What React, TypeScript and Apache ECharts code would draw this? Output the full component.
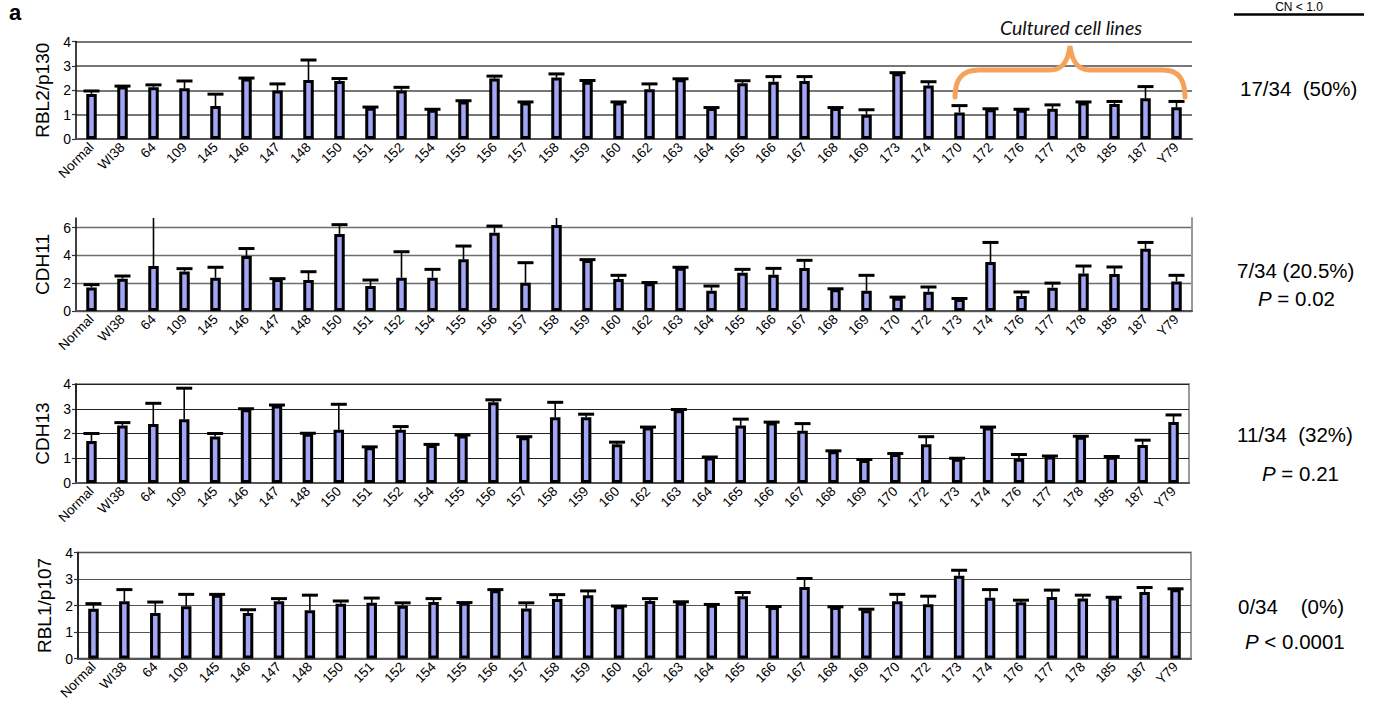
import React, { useEffect, useRef } from "react";
import * as echarts from "echarts";

// Sample order used for the RBL2/p130 panel (cultured lines grouped at the end)
const samplesP130 = [
  "Normal", "WI38", "64", "109", "145", "146", "147", "148", "150", "151", "152", "154",
  "155", "156", "157", "158", "159", "160", "162", "163", "164", "165", "166", "167",
  "168", "169", "173", "174", "170", "172", "176", "177", "178", "185", "187", "Y79",
];

// Sample order used for the other three panels
const samplesOther = [
  "Normal", "WI38", "64", "109", "145", "146", "147", "148", "150", "151", "152", "154",
  "155", "156", "157", "158", "159", "160", "162", "163", "164", "165", "166", "167",
  "168", "169", "170", "172", "173", "174", "176", "177", "178", "185", "187", "Y79",
];

// RBL2/p130 copy number (mean, SD)
const p130Mean = [
  1.85, 2.15, 2.12, 2.08, 1.35, 2.48, 1.99, 2.42, 2.38, 1.28, 1.99, 1.2,
  1.54, 2.48, 1.5, 2.52, 2.35, 1.5, 2.04, 2.45, 1.27, 2.29, 2.35, 2.38,
  1.27, 1.0, 2.7, 2.19, 1.09, 1.22, 1.2, 1.24, 1.5, 1.44, 1.67, 1.3,
];
const p130Sd = [
  0.12, 0.02, 0.1, 0.3, 0.49, 0.02, 0.27, 0.82, 0.1, 0.03, 0.13, 0.02,
  0.03, 0.1, 0.02, 0.15, 0.05, 0.02, 0.22, 0.02, 0.02, 0.1, 0.21, 0.18,
  0.02, 0.2, 0.02, 0.16, 0.28, 0.02, 0.02, 0.16, 0.02, 0.1, 0.48, 0.24,
];

// CDH11 copy number (mean, SD)
const cdh11Mean = [
  1.7, 2.33, 3.24, 2.85, 2.4, 3.96, 2.3, 2.23, 5.55, 1.8, 2.4, 2.4,
  3.72, 5.64, 2.04, 6.19, 3.67, 2.3, 2.0, 3.12, 1.46, 2.76, 2.61, 3.09,
  1.56, 1.46, 0.96, 1.39, 0.86, 3.53, 1.08, 1.68, 2.71, 2.66, 4.48, 2.13,
];
const cdh11Sd = [
  0.2, 0.19, 3.6, 0.2, 0.75, 0.54, 0.03, 0.6, 0.67, 0.43, 1.87, 0.6,
  0.96, 0.48, 1.44, 0.6, 0.03, 0.27, 0.05, 0.03, 0.34, 0.24, 0.46, 0.56,
  0.04, 1.11, 0.04, 0.34, 0.04, 1.41, 0.29, 0.33, 0.53, 0.51, 0.46, 0.44,
];

// CDH13 copy number (mean, SD)
const cdh13Mean = [
  1.7, 2.32, 2.38, 2.58, 1.88, 2.98, 3.13, 1.99, 2.15, 1.44, 2.15, 1.54,
  1.92, 3.26, 1.85, 2.66, 2.66, 1.57, 2.24, 2.94, 1.03, 2.32, 2.44, 2.11,
  1.28, 0.93, 1.17, 1.57, 0.98, 2.24, 0.98, 1.07, 1.87, 1.06, 1.54, 2.46,
];
const cdh13Sd = [
  0.3, 0.12, 0.84, 1.25, 0.12, 0.02, 0.02, 0.02, 1.03, 0.02, 0.13, 0.02,
  0.02, 0.1, 0.02, 0.6, 0.12, 0.08, 0.02, 0.03, 0.02, 0.26, 0.02, 0.29,
  0.02, 0.02, 0.02, 0.3, 0.02, 0.02, 0.17, 0.02, 0.02, 0.01, 0.19, 0.29,
];

// RBL1/p107 copy number (mean, SD)
const p107Mean = [
  1.88, 2.16, 1.72, 1.97, 2.41, 1.72, 2.16, 1.82, 2.07, 2.1, 1.99, 2.13,
  2.1, 2.58, 1.89, 2.25, 2.39, 1.97, 2.17, 2.1, 2.03, 2.35, 1.94, 2.7,
  1.94, 1.82, 2.16, 2.05, 3.12, 2.29, 2.12, 2.32, 2.26, 2.3, 2.51, 2.61,
];
const p107Sd = [
  0.19, 0.44, 0.41, 0.45, 0.01, 0.12, 0.1, 0.57, 0.1, 0.18, 0.11, 0.13,
  0.01, 0.02, 0.21, 0.16, 0.16, 0.01, 0.09, 0.04, 0.01, 0.14, 0.02, 0.32,
  0.01, 0.04, 0.26, 0.3, 0.21, 0.31, 0.08, 0.26, 0.13, 0.01, 0.17, 0.02,
];

// Summary statistics shown to the right of each panel
const summaryLines = ["17/34  (50%)", "7/34 (20.5%)", "11/34  (32%)", "0/34    (0%)"];
const pValues = ["", "= 0.02", "= 0.21", "< 0.0001"];

const FONT = "'Liberation Sans', Arial, sans-serif";
const BAR_FILL = "#a3a6f6";

type Panel = {
  name: string;
  cats: string[];
  mean: number[];
  sd: number[];
  max: number;
  interval: number;
  top: number;
  height: number;
  left: number;
  width: number;
  gridColor: string;
  gridWidth: number;
  boxed: boolean;
  rightEdge: boolean;
};

const panels: Panel[] = [
  { name: "RBL2/p130", cats: samplesP130, mean: p130Mean, sd: p130Sd, max: 4, interval: 1,
    top: 41.5, height: 97.5, left: 76, width: 1116, gridColor: "#4a4a4a", gridWidth: 1.5, boxed: false, rightEdge: false },
  { name: "CDH11", cats: samplesOther, mean: cdh11Mean, sd: cdh11Sd, max: 6.7, interval: 2,
    top: 218, height: 93, left: 76, width: 1116, gridColor: "#6e6e6e", gridWidth: 1.3, boxed: false, rightEdge: true },
  { name: "CDH13", cats: samplesOther, mean: cdh13Mean, sd: cdh13Sd, max: 4, interval: 1,
    top: 384, height: 99, left: 76, width: 1113, gridColor: "#222", gridWidth: 1, boxed: true, rightEdge: false },
  { name: "RBL1/p107", cats: samplesOther, mean: p107Mean, sd: p107Sd, max: 4, interval: 1,
    top: 552.5, height: 106, left: 78, width: 1113, gridColor: "#555", gridWidth: 1.2, boxed: true, rightEdge: false },
];

function buildOption(): echarts.EChartsCoreOption {
  const grids: any[] = [];
  const xAxes: any[] = [];
  const yAxes: any[] = [];
  const series: any[] = [];

  panels.forEach((p, i) => {
    grids.push({
      left: p.left,
      top: p.top,
      width: p.width,
      height: p.height,
      show: p.boxed,
      borderColor: "#9a9a9a",
      borderWidth: 2,
      backgroundColor: "transparent",
    });
    xAxes.push({
      type: "category",
      gridIndex: i,
      data: p.cats,
      axisTick: { show: false },
      axisLine: { show: true, lineStyle: { color: "#555", width: 2 } },
      axisLabel: {
        interval: 0,
        rotate: 45,
        fontSize: 13.5,
        color: "#000",
        fontFamily: FONT,
        margin: 6,
      },
    });
    const yIndex = yAxes.length;
    yAxes.push({
      type: "value",
      gridIndex: i,
      min: 0,
      max: p.max,
      interval: p.interval,
      name: p.name,
      nameLocation: "middle",
      nameGap: 21,
      nameTextStyle: { fontSize: 19, color: "#000", fontFamily: FONT },
      axisLine: { show: true, lineStyle: { color: "#000", width: 1.5 } },
      axisTick: { show: true, length: 4, lineStyle: { color: "#333", width: 1.2 } },
      axisLabel: {
        fontSize: 14,
        color: "#000",
        fontFamily: FONT,
        margin: 5,
        showMaxLabel: p.max % p.interval === 0,
      },
      splitLine: {
        show: true,
        showMaxLine: p.max % p.interval === 0,
        lineStyle: { color: p.gridColor, width: p.gridWidth },
      },
    });
    if (p.rightEdge) {
      yAxes.push({
        type: "value",
        gridIndex: i,
        position: "right",
        min: 0,
        max: p.max,
        interval: p.interval,
        axisLine: { show: true, lineStyle: { color: "#9a9a9a", width: 2 } },
        axisTick: { show: false },
        axisLabel: { show: false },
        splitLine: { show: false },
      });
    }

    series.push({
      type: "bar",
      xAxisIndex: i,
      yAxisIndex: yIndex,
      data: p.mean,
      barWidth: 10.5,
      itemStyle: { color: BAR_FILL, borderColor: "#000", borderWidth: 3 },
      silent: true,
    });

    const axisMax = p.max;
    series.push({
      type: "custom",
      xAxisIndex: i,
      yAxisIndex: yIndex,
      silent: true,
      z: 3,
      data: p.mean.map((m, k) => [k, m + p.sd[k], m]),
      renderItem: (_params: any, api: any) => {
        const k = api.value(0);
        const upper = api.value(1);
        const m = api.value(2);
        const clipped = upper > axisMax;
        const base = api.coord([k, m]);
        const tip = api.coord([k, Math.min(upper, axisMax)]);
        const children: any[] = [
          {
            type: "line",
            shape: { x1: base[0], y1: base[1], x2: tip[0], y2: tip[1] },
            style: { stroke: "#000", lineWidth: 1.6 },
          },
        ];
        if (!clipped) {
          children.push({
            type: "line",
            shape: { x1: base[0] - 8, y1: tip[1], x2: base[0] + 8, y2: tip[1] },
            style: { stroke: "#000", lineWidth: 3 },
          });
        }
        return { type: "group", children };
      },
    });
  });

  // Curly brace spanning the cultured cell lines
  const braceD =
    "M955,97 C955,80 961,70 979,70 L1050,70 C1062,70 1068,62 1070,46 " +
    "C1072,62 1078,70 1090,70 L1163,70 C1179,70 1185,80 1185,97";
  echarts.graphic.registerShape("brace", echarts.graphic.extendPath(braceD, {}) as any);

  const rightTextY = [88, 270, 434, 606];
  const pTextY = [0, 298, 473, 641];
  const rightTextX = [1240, 1237, 1237, 1238];
  const pTextX = [0, 1258, 1262, 1245];

  const graphics: any[] = [
    {
      type: "text",
      x: 9,
      y: 1,
      style: {
        text: "a",
        fontSize: 22,
        fontWeight: "bold",
        fontFamily: FONT,
        fill: "#000",
        textVerticalAlign: "top",
      },
    },
    {
      type: "text",
      x: 1299,
      y: 1,
      style: {
        text: "CN < 1.0",
        fontSize: 12,
        fontFamily: FONT,
        fill: "#000",
        textAlign: "center",
        textVerticalAlign: "top",
      },
    },
    {
      type: "line",
      shape: { x1: 1234, y1: 14.5, x2: 1364, y2: 14.5 },
      style: { stroke: "#000", lineWidth: 2.5 },
    },
    {
      type: "text",
      x: 1071,
      y: 27,
      style: {
        text: "Cultured cell lines",
        fontSize: 19.5,
        fontStyle: "italic",
        fontFamily: "Lato, 'Open Sans', sans-serif",
        fill: "#111",
        textAlign: "center",
        textVerticalAlign: "middle",
      },
    },
    {
      type: "brace",
      x: 0,
      y: 0,
      style: { stroke: "#f5a35a", lineWidth: 5, fill: "none", lineCap: "round" },
      z: 10,
    },
  ];

  summaryLines.forEach((t, i) => {
    graphics.push({
      type: "text",
      x: rightTextX[i],
      y: rightTextY[i],
      style: {
        text: t,
        fontSize: 20.5,
        fontFamily: FONT,
        fill: "#000",
        textAlign: "left",
        textVerticalAlign: "middle",
      },
    });
    if (pValues[i]) {
      graphics.push({
        type: "text",
        x: pTextX[i],
        y: pTextY[i],
        style: {
          text: "{p|P} " + pValues[i],
          fontSize: 20.5,
          fontFamily: FONT,
          fill: "#000",
          textAlign: "left",
          textVerticalAlign: "middle",
          rich: {
            p: { fontStyle: "italic", fontSize: 20.5, fontFamily: FONT, fill: "#000" },
          },
        },
      });
    }
  });

  return {
    animation: false,
    backgroundColor: "#fff",
    textStyle: { fontFamily: FONT },
    grid: grids,
    xAxis: xAxes,
    yAxis: yAxes,
    series,
    graphic: graphics,
  };
}

export default function App() {
  const ref = useRef<HTMLDivElement>(null);
  useEffect(() => {
    if (!ref.current) return;
    const chart = echarts.init(ref.current, undefined, { renderer: "svg" });
    chart.setOption(buildOption());
    return () => chart.dispose();
  }, []);
  return (
    <div
      ref={ref}
      style={{ position: "absolute", left: 0, top: 0, width: 1386, height: 715, background: "#fff" }}
    />
  );
}
